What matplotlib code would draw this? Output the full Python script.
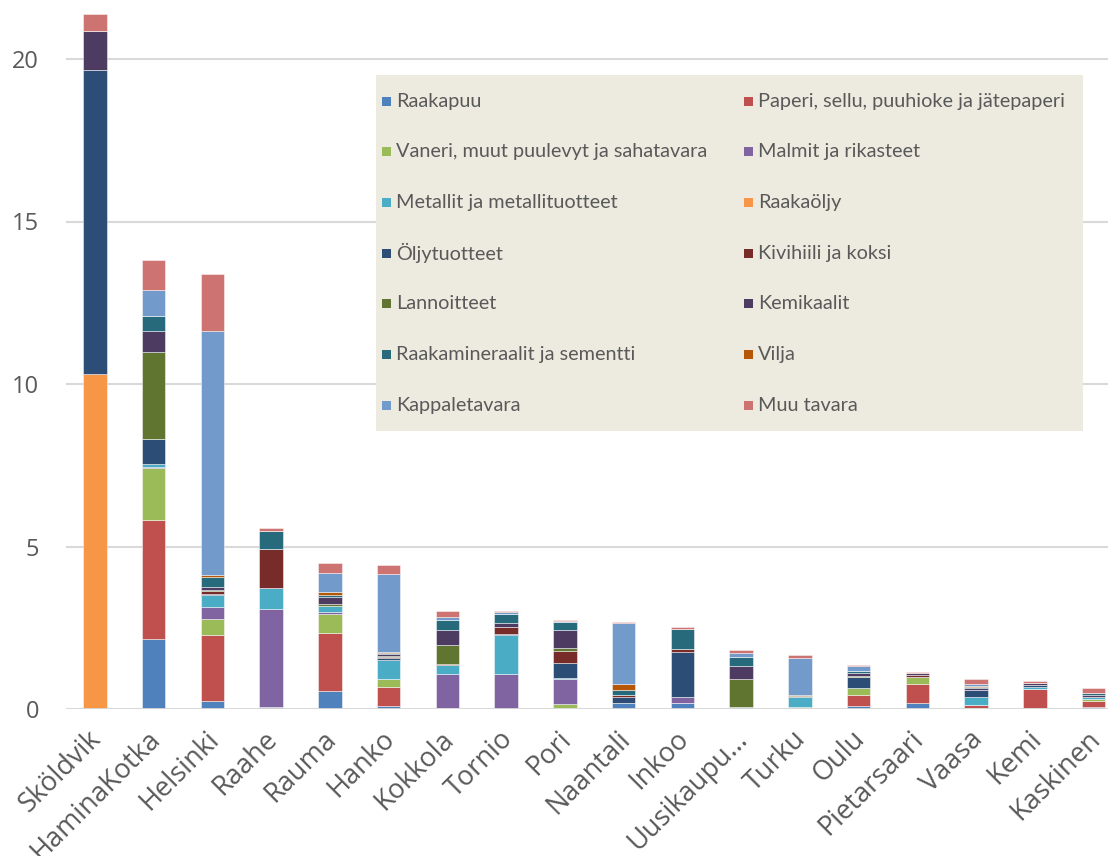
import numpy as np
import matplotlib.pyplot as plt
import matplotlib.transforms as mtransforms
from matplotlib.patches import Rectangle

# Satamat
ports = ["Sköldvik", "HaminaKotka", "Helsinki", "Raahe", "Rauma", "Hanko",
         "Kokkola", "Tornio", "Pori", "Naantali", "Inkoo", "Uusikaupu...",
         "Turku", "Oulu", "Pietarsaari", "Vaasa", "Kemi", "Kaskinen"]

# Tavararyhmät (milj. tonnia)
raakapuu        = [0, 2.14, 0.24, 0.05, 0.55, 0.08, 0.03, 0.01, 0.02, 0.17, 0.17, 0, 0, 0.08, 0.18, 0.02, 0.02, 0.07]
paperi          = [0, 3.67, 2.05, 0, 1.80, 0.59, 0, 0, 0, 0, 0, 0, 0, 0.34, 0.59, 0.09, 0.59, 0.19]
vaneri          = [0, 1.62, 0.47, 0, 0.56, 0.24, 0, 0, 0.14, 0, 0, 0, 0.06, 0.22, 0.23, 0, 0, 0.06]
malmit          = [0, 0.03, 0.38, 3.03, 0.09, 0, 1.05, 1.08, 0.77, 0, 0.20, 0, 0, 0.02, 0, 0, 0, 0]
metallit        = [0, 0.07, 0.37, 0.65, 0.17, 0.61, 0.28, 1.19, 0.03, 0, 0, 0.06, 0.30, 0, 0, 0.27, 0.06, 0.06]
raakaoljy       = [10.30, 0, 0, 0, 0, 0, 0, 0, 0, 0, 0, 0, 0, 0, 0, 0, 0, 0]
oljytuotteet    = [9.35, 0.78, 0.03, 0, 0, 0.05, 0, 0.04, 0.47, 0.21, 1.37, 0, 0, 0.32, 0, 0.19, 0.08, 0]
kivihiili       = [0, 0, 0.10, 1.19, 0, 0.04, 0.04, 0.21, 0.35, 0.04, 0.12, 0, 0, 0, 0.04, 0, 0, 0]
lannoitteet     = [0, 2.68, 0.02, 0, 0.07, 0.02, 0.57, 0, 0.09, 0, 0, 0.87, 0, 0.03, 0, 0, 0, 0]
kemikaalit      = [1.20, 0.63, 0.10, 0, 0.20, 0.06, 0.45, 0.13, 0.57, 0, 0, 0.38, 0, 0.11, 0.06, 0.07, 0.04, 0.06]
raakamineraalit = [0, 0.47, 0.30, 0.57, 0.08, 0.03, 0.33, 0.25, 0.25, 0.17, 0.61, 0.28, 0.05, 0.06, 0, 0.04, 0, 0.04]
vilja           = [0, 0, 0.07, 0, 0.07, 0.03, 0, 0, 0, 0.19, 0, 0, 0.02, 0, 0, 0.04, 0, 0]
kappaletavara   = [0, 0.79, 7.51, 0, 0.60, 2.40, 0.08, 0.07, 0.02, 1.86, 0, 0.14, 1.15, 0.14, 0, 0.06, 0.02, 0]
muu_tavara      = [0.54, 0.95, 1.75, 0.07, 0.31, 0.29, 0.17, 0.04, 0.02, 0.04, 0.05, 0.09, 0.08, 0.03, 0.04, 0.13, 0.05, 0.16]

series = [
    ("Raakapuu", raakapuu, "#4F81BD"),
    ("Paperi, sellu, puuhioke ja jätepaperi", paperi, "#C0504D"),
    ("Vaneri, muut puulevyt ja sahatavara", vaneri, "#9BBB59"),
    ("Malmit ja rikasteet", malmit, "#8064A2"),
    ("Metallit ja metallituotteet", metallit, "#4BACC6"),
    ("Raakaöljy", raakaoljy, "#F79646"),
    ("Öljytuotteet", oljytuotteet, "#2C4D75"),
    ("Kivihiili ja koksi", kivihiili, "#772C2A"),
    ("Lannoitteet", lannoitteet, "#5F7530"),
    ("Kemikaalit", kemikaalit, "#4D3B62"),
    ("Raakamineraalit ja sementti", raakamineraalit, "#276A7C"),
    ("Vilja", vilja, "#B65708"),
    ("Kappaletavara", kappaletavara, "#729ACA"),
    ("Muu tavara", muu_tavara, "#CD7371"),
]

W, H = 1108, 856
fig = plt.figure(figsize=(W / 100, H / 100), dpi=100)

# akselin rajat pikseleinä
x0, x1 = 65.6, 1123
y0px = 709
ppu = 32.5
ytop = 21.8
ax = fig.add_axes([x0 / W, (H - y0px) / H, (x1 - x0) / W, ytop * ppu / H])

x = np.arange(len(ports))
bottom = np.zeros(len(ports))
for name, vals, col in series:
    v = np.array(vals)
    ax.bar(x, v, width=0.4, bottom=bottom, color=col,
           edgecolor=(1, 1, 1, 0.55), linewidth=0.6, zorder=3)
    bottom += v

ax.set_xlim(-0.5, len(ports) - 0.5)
ax.set_ylim(0, ytop)
ax.set_yticks([0, 5, 10, 15, 20])
ax.grid(axis="y", color="#D9D9D9", linewidth=1.5, zorder=0)
ax.axhline(0, color="#D9D9D9", linewidth=2, zorder=4)
for s in ax.spines.values():
    s.set_visible(False)
ax.tick_params(axis="both", length=0)
ax.tick_params(axis="y", pad=19)
ax.set_yticklabels(["0", "5", "10", "15", "20"], fontsize=17,
                   color="#595959", family=["Open Sans", "DejaVu Sans"])
ax.set_xticks(x)
ax.set_xticklabels(ports, rotation=45, ha="right", rotation_mode="anchor",
                   fontsize=19.5, color="#595959", family=["Open Sans", "DejaVu Sans"])
ax.tick_params(axis="x", pad=6)
# siirretään nimiä hieman vasemmalle alas
shift = mtransforms.ScaledTranslation(-0.075, -0.08, fig.dpi_scale_trans)
for lbl in ax.get_xticklabels():
    lbl.set_transform(lbl.get_transform() + shift)

# selite
lx, ly, lw, lh = 376, 75, 707, 356
fig.patches.append(Rectangle((lx / W, 1 - (ly + lh) / H), lw / W, lh / H,
                             transform=fig.transFigure, facecolor="#EDEBE0",
                             edgecolor="none", zorder=5))
col_x = [386, 748]
row_y0, row_dy = 101, 50.7
for i, (name, vals, col) in enumerate(series):
    cx = col_x[i % 2]
    cy = row_y0 + (i // 2) * row_dy
    fig.patches.append(Rectangle(((cx - 4) / W, 1 - (cy + 4.5) / H), 9 / W, 9 / H,
                                 transform=fig.transFigure, facecolor=col,
                                 edgecolor="none", zorder=6))
    fig.text((cx + 10) / W, 1 - cy / H, name, fontsize=14.3, color="#595959",
             va="center", ha="left", family=["Lato", "DejaVu Sans"], zorder=7)

plt.savefig("out.png", dpi=100)
